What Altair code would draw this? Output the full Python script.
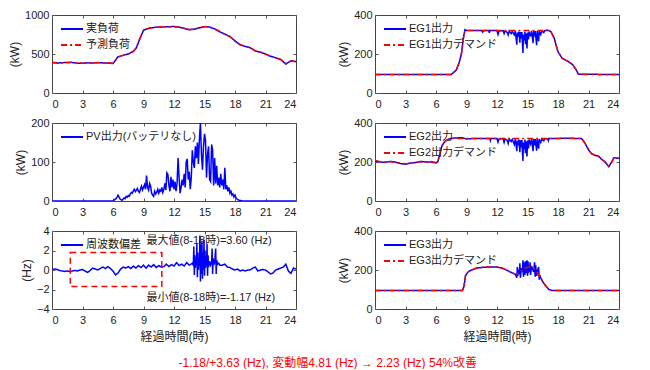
import altair as alt
import pandas as pd

FONT = "Liberation Sans, Noto Sans CJK JP, sans-serif"
W, H = 244, 78
X_TICKS = [0, 3, 6, 9, 12, 15, 18, 21, 24]
BLUE, RED = "#0000ff", "#ff0000"
SOLID, DASHDOT = [1, 0], [6, 3, 2, 3]

# ---------------- load (kW) ----------------
load_t = [0, 0.5, 1, 1.5, 2, 2.5, 3, 3.5, 4, 4.5, 5, 5.5, 6, 6.5, 7, 7.5, 8, 8.3, 8.6, 9,
          9.5, 10, 10.5, 11, 11.5, 12, 12.5, 13, 13.5, 14, 14.5, 15, 15.5, 16, 16.5, 17,
          17.5, 18, 18.5, 19, 19.5, 20, 20.5, 21, 21.5, 22, 22.5, 23, 23.5, 24]
load_actual = [390, 385, 388, 392, 390, 383, 380, 387, 384, 390, 386, 383, 378, 465, 482, 500,
               535, 580, 680, 805, 830, 840, 845, 848, 850, 852, 845, 828, 812, 818, 836, 852,
               846, 822, 785, 755, 722, 668, 618, 598, 580, 540, 522, 500, 470, 452, 428, 372,
               412, 402]
load_pred = [395, 388, 386, 390, 393, 386, 383, 384, 388, 387, 389, 385, 382, 460, 485, 498,
             530, 585, 690, 800, 828, 842, 843, 850, 848, 850, 843, 830, 814, 816, 838, 850,
             848, 820, 788, 752, 725, 665, 622, 595, 583, 538, 525, 498, 472, 450, 430, 375,
             410, 405]

# ---------------- PV (kW) ----------------
pv_t = [0, 5.9] + [round(6.0 + 0.1 * i, 1) for i in range(131)] + [24]
pv_v = [0, 0,
        0, 2, 4, 6, 10, 15, 10, 5, 3, 2,
        5, 8, 6, 12, 10, 14, 12, 18, 22, 20,
        26, 30, 24, 28, 32, 25, 22, 30, 38, 28,
        35, 42, 30, 65, 35, 28, 45, 38, 20, 15,
        12, 25, 18, 22, 30, 20, 28, 25, 35, 22,
        30, 45, 28, 72, 68, 40, 25, 62, 35, 55,
        30, 50, 25, 45, 110, 60, 20, 35, 55, 40,
        70, 35, 100, 108, 55, 75, 30, 60, 130, 100,
        85, 140, 110, 150, 95, 160, 200, 120, 80, 140,
        172, 155, 60, 120, 140, 55, 50, 145, 130, 40,
        110, 45, 90, 40, 60, 35, 70, 40, 55, 30,
        85, 30, 40, 25, 35, 20, 25, 15, 18, 10,
        15, 8, 5, 3, 2, 1, 1, 0, 0, 0, 0,
        0]

# ---------------- frequency deviation (Hz) ----------------
fq_t = [round(0.25 * i, 2) for i in range(56)] + [
    13.8, 13.9, 13.95, 14.0, 14.05, 14.1, 14.15, 14.2, 14.25, 14.3, 14.35, 14.4, 14.45, 14.5,
    14.55, 14.6, 14.65, 14.7, 14.75, 14.8, 14.85, 14.9, 14.95, 15.0, 15.05, 15.1, 15.15, 15.2,
    15.25, 15.3, 15.35, 15.4, 15.5, 15.6, 15.7, 15.75, 15.8, 15.85, 15.9, 16.0, 16.1, 16.15,
    16.2, 16.3, 16.4, 16.5,
    16.75, 17.0, 17.25, 17.5, 17.75, 18.0, 18.25, 18.5, 18.75, 19.0, 19.25, 19.5, 19.75, 20.0,
    20.25, 20.5, 20.75, 21.0, 21.25, 21.5, 21.75, 22.0, 22.25, 22.5, 22.75, 23.0, 23.25, 23.5,
    23.75, 24.0]
fq_v = [0.05, 0.1, 0.05, -0.05, -0.1, -0.15, -0.1, -0.15, -0.1, -0.05, -0.1, 0.0, 0.05, -0.1,
        -0.25, -0.05, 0.2, 0.1, 0.0, 0.15, 0.3, 0.15, 0.35, 0.15, -0.1, -0.5, -0.3, 0.1, 0.3,
        0.2, 0.35, 0.15, 0.4, 0.2, 0.45, 0.25, 0.5, 0.2, 0.5, 0.3, 0.55, 0.25, 0.45, 0.3, 0.35,
        0.6, 0.35, 0.55, 0.4, 0.75, 0.45, 0.6, 0.4, 0.75, 0.5, 0.65,
        0.7, 0.5, 2.4, -0.5, 1.5, 0.2, 0.9, 0.5, 2.7, -0.75, 1.8, 0.0, 1.0, 0.4,
        3.55, -1.17, 2.6, -0.4, 3.0, -0.9, 1.8, 0.0, 3.1, -0.6, 2.0, 0.2, 1.0, 0.4,
        2.7, -0.6, 1.5, 0.3, 0.9, 0.5, 0.8, 2.2, -0.4, 1.2, 0.5, 0.8, 2.2, -0.4,
        1.0, 0.6, 0.7, 0.5,
        0.5, 0.6, 0.3, 0.25, 0.1, 0.0, 0.1, -0.1, 0.0, -0.1, 0.0, 0.0, 0.2, 0.3,
        -0.1, 0.0, 0.05, 0.0, -0.2, -0.4, -0.3, 0.0, 0.1, 0.2, 0.3, 0.6, -0.1, -0.35,
        0.2, 0.1]
box_t, box_t2, box_v, box_v2 = [1.8], [10.8], [1.8], [-1.7]
note_t = [9.3, 9.3]
note_v = [3.0, -2.9]
note_text = ["最大値(8-18時)=3.60 (Hz)", "最小値(8-18時)=-1.17 (Hz)"]

# ---------------- EG1 (kW) ----------------
eg1_dem_t = [0, 7.5, 8.0, 8.3, 8.5, 8.7, 8.85, 17.0, 17.3, 17.6, 18.0, 18.4, 19.0, 19.45,
             19.8, 20.0, 20.2, 24]
eg1_dem_v = [95, 95, 118, 160, 200, 280, 320, 320, 315, 282, 212, 178, 161, 144, 119, 98,
             95, 95]
eg1_out_t = [0, 7.5, 8.0, 8.3, 8.5, 8.7, 8.85, 9.0, 10.5, 10.6, 10.7, 11.2, 11.25, 11.3,
             12.0, 12.1, 12.2, 12.6, 12.7, 12.8, 13.0, 13.1, 13.2, 13.4, 13.5, 13.7, 13.8,
             13.95, 14.0, 14.1, 14.15, 14.25, 14.3, 14.4, 14.45, 14.55, 14.6, 14.7, 14.75,
             14.8, 14.85, 14.95, 15.0, 15.1, 15.15, 15.3, 15.4, 15.55, 15.6, 15.7, 15.75,
             15.9, 15.95, 16.1, 16.15, 16.3, 16.4, 16.6, 16.7, 17.0, 17.3, 17.6, 18.0, 18.4,
             19.0, 19.45, 19.8, 20.0, 24]
eg1_out_v = [95, 95, 118, 160, 200, 285, 325, 320, 320, 312, 320, 320, 308, 320,
             320, 300, 318, 320, 305, 318, 312, 298, 318, 305, 316, 298, 318,
             248, 310, 290, 315, 258, 312, 280, 312, 205, 300, 270, 315,
             250, 305, 228, 310, 275, 315, 290, 318, 256, 318, 290, 318,
             245, 318, 265, 318, 300, 318, 310, 320, 322, 315, 285, 212, 178,
             162, 145, 118, 96, 95]

# ---------------- EG2 (kW) ----------------
eg2_dem_t = [0, 0.5, 1, 1.5, 2, 2.5, 3, 3.5, 4, 4.5, 5, 5.5, 6, 6.2, 6.4, 6.6, 6.8, 7, 7.3,
             7.6, 20.3, 20.6, 21.0, 21.3, 21.7, 22.0, 22.3, 22.6, 23.0, 23.3, 23.5, 24]
eg2_dem_v = [208, 202, 200, 201, 198, 194, 191, 194, 199, 201, 198, 202, 197, 205, 245, 283,
             302, 310, 317, 320, 320, 300, 265, 242, 235, 228, 215, 200, 178, 200, 220, 220]
eg2_out_t = [0, 0.5, 1, 1.5, 2, 2.5, 3, 3.5, 4, 4.5, 5, 5.5, 6, 6.2, 6.4, 6.6, 6.8, 7, 7.3,
             7.6, 8.5, 9.0, 9.5, 11.3, 11.35, 11.4, 12.0, 12.1, 12.2, 12.6, 12.7, 12.8, 13.0,
             13.1, 13.2, 13.4, 13.5, 13.7, 13.8, 13.95, 14.0, 14.1, 14.15, 14.25, 14.3, 14.4,
             14.45, 14.55, 14.6, 14.7, 14.75, 14.8, 14.85, 14.95, 15.0, 15.1, 15.15, 15.3,
             15.4, 15.55, 15.6, 15.7, 15.75, 15.9, 15.95, 16.1, 16.15, 16.3, 16.4, 16.6, 16.7,
             17.0, 17.05, 17.1, 19.0, 20.3, 20.6, 21.0, 21.3, 21.7, 22.0, 22.3, 22.6, 23.0,
             23.3, 23.5, 24]
eg2_out_v = [205, 200, 198, 203, 200, 192, 189, 195, 197, 203, 200, 200, 195, 203, 248, 285,
             300, 312, 318, 322, 325, 318, 320, 320, 310, 320, 320, 302, 318, 320, 300, 318,
             312, 295, 318, 305, 316, 290, 318, 255, 310, 285, 315, 250, 312, 275, 312, 205,
             300, 265, 315, 245, 305, 228, 310, 270, 315, 292, 318, 255, 318, 285, 318, 258,
             318, 268, 318, 300, 318, 308, 320, 318, 310, 320, 322, 320, 302, 262, 243, 233,
             230, 213, 202, 176, 202, 222, 218]

# ---------------- EG3 (kW) ----------------
eg3_dem_t = [0, 8.6, 8.75, 8.9, 9.0, 9.2, 9.5, 10, 10.5, 11, 11.5, 12, 12.5, 13, 13.5, 13.8,
             14.1, 14.4, 14.7, 15.0, 15.3, 15.6, 15.9, 16.2, 16.5, 16.8, 17.1, 17.4, 24]
eg3_dem_v = [95, 95, 115, 170, 180, 192, 200, 210, 213, 215, 216, 215, 210, 198, 185, 178,
             183, 195, 207, 214, 215, 208, 190, 165, 140, 118, 100, 95, 95]
eg3_out_t = [0, 8.6, 8.75, 8.9, 9.0, 9.2, 9.5, 10, 10.5, 11, 11.5, 12, 12.5, 13, 13.5, 13.8,
             13.95, 14.0, 14.05, 14.1, 14.2, 14.25, 14.3, 14.4, 14.5, 14.55, 14.6, 14.7,
             14.75, 14.8, 14.9, 14.95, 15.0, 15.05, 15.1, 15.2, 15.25, 15.3, 15.4, 15.5,
             15.6, 15.7, 15.75, 15.8, 15.9, 16.0, 16.1, 16.15, 16.2, 16.3, 16.5, 16.8, 17.1,
             17.4, 24]
eg3_out_v = [95, 95, 115, 170, 180, 192, 200, 210, 213, 215, 216, 215, 210, 198, 185, 178,
             160, 215, 170, 195, 185, 235, 160, 210, 190, 250, 165, 240, 175, 245, 185, 250,
             170, 245, 190, 200, 240, 175, 220, 205, 190, 240, 165, 225, 170, 200, 215, 150,
             175, 160, 140, 118, 100, 95, 95]

TITLE_TEXT = "-1.18/+3.63 (Hz), 変動幅4.81 (Hz)  → 2.23 (Hz) 54%改善"


def make_df(series):
    rows = []
    for name, ts, vs in series:
        assert len(ts) == len(vs), name
        rows += [{"t": a, "v": b, "s": name} for a, b in zip(ts, vs)]
    return pd.DataFrame(rows)


def enc_xy(ydom, yticks, ytitle, xtitle):
    x = alt.X("t:Q", scale=alt.Scale(domain=[0, 24], nice=False, zero=False),
              axis=alt.Axis(values=X_TICKS, title=xtitle, grid=True,
                            gridDash=[3, H - 6, 3]))
    y = alt.Y("v:Q", scale=alt.Scale(domain=ydom, nice=False, zero=False),
              axis=alt.Axis(values=yticks, title=ytitle, grid=True, format="d",
                            gridDash=[3, W - 6, 3]))
    return x, y


def legend_layers(names):
    styles = [(BLUE, SOLID), (RED, DASHDOT)]
    out = []
    for i, name in enumerate(names):
        color, dash = styles[i]
        yy = 14 + 16 * i
        d = pd.DataFrame({"label": [name]})
        out.append(alt.Chart(d).mark_rule(color=color, strokeWidth=2, strokeDash=dash).encode(
            x=alt.value(9), x2=alt.value(31), y=alt.value(yy)))
        out.append(alt.Chart(d).mark_text(align="left", baseline="middle", font=FONT,
                                          fontSize=11, color="#222").encode(
            x=alt.value(34), y=alt.value(yy), text="label:N"))
    return out


def lines(series, ydom, yticks, ytitle, xtitle):
    names = [s[0] for s in series]
    df = make_df(series)
    x, y = enc_xy(ydom, yticks, ytitle, xtitle)
    return alt.Chart(df).mark_line(strokeWidth=1.5, clip=True).encode(
        x=x, y=y,
        color=alt.Color("s:N", scale=alt.Scale(domain=names, range=[BLUE, RED][:len(names)]),
                        legend=None),
        strokeDash=alt.StrokeDash("s:N", scale=alt.Scale(domain=names,
                                                         range=[SOLID, DASHDOT][:len(names)]),
                                  legend=None),
    ), names


def panel(series, ydom, yticks, ytitle, xtitle, extra=()):
    base, names = lines(series, ydom, yticks, ytitle, xtitle)
    return alt.layer(base, *extra, *legend_layers(names)).properties(width=W, height=H)


p_load = panel([("実負荷", load_t, load_actual), ("予測負荷", load_t, load_pred)],
               [0, 1000], [0, 500, 1000], "(kW)", None)
p_pv = panel([("PV出力(バッテリなし)", pv_t, pv_v)], [0, 200], [0, 100, 200], "(kW)", None)

bx, by = enc_xy([-4, 4], [-4, -2, 0, 2, 4], "(Hz)", "経過時間(時)")
box = alt.Chart(pd.DataFrame({"t": box_t, "t2": box_t2, "v": box_v, "v2": box_v2})).mark_rect(
    fillOpacity=0, stroke=RED, strokeWidth=1.5, strokeDash=[6, 4]
).encode(x=bx, x2="t2", y=by, y2="v2")
notes = alt.Chart(pd.DataFrame({"t": note_t, "v": note_v, "txt": note_text})).mark_text(
    align="left", baseline="middle", font=FONT, fontSize=11, color="#222"
).encode(x=bx, y=by, text="txt:N")
p_fq = panel([("周波数偏差", fq_t, fq_v)], [-4, 4], [-4, -2, 0, 2, 4], "(Hz)", "経過時間(時)",
             extra=(box, notes))

p_eg1 = panel([("EG1出力", eg1_out_t, eg1_out_v), ("EG1出力デマンド", eg1_dem_t, eg1_dem_v)],
              [0, 400], [0, 200, 400], "(kW)", None)
p_eg2 = panel([("EG2出力", eg2_out_t, eg2_out_v), ("EG2出力デマンド", eg2_dem_t, eg2_dem_v)],
              [0, 400], [0, 200, 400], "(kW)", None)
p_eg3 = panel([("EG3出力", eg3_out_t, eg3_out_v), ("EG3出力デマンド", eg3_dem_t, eg3_dem_v)],
              [0, 400], [0, 200, 400], "(kW)", "経過時間(時)")

chart = alt.concat(
    p_load, p_eg1, p_pv, p_eg2, p_fq, p_eg3,
    columns=2, spacing={"row": 30, "column": 79}, bounds="flush"
).resolve_scale(
    x="independent", y="independent", color="independent", strokeDash="independent"
).properties(
    padding={"left": 0, "top": 0, "right": 0, "bottom": 0},
    title=alt.TitleParams(text=TITLE_TEXT, orient="bottom", anchor="middle", color=RED,
                          fontSize=12, font=FONT, fontWeight="normal", offset=15, dx=14),
).configure_view(
    stroke="#444", strokeWidth=1
).configure_axis(
    labelFont=FONT, labelFontSize=11, labelColor="#222", titleFont=FONT, titleFontSize=12,
    titleFontWeight="normal", titleColor="#222", domain=False, ticks=False,
    gridColor="#555", gridWidth=1, gridOpacity=1
).configure_axisX(
    labelPadding=5, titlePadding=6
).configure_axisY(
    labelPadding=3, titlePadding=3
)

chart.save("out.html", embed_options={"renderer": "svg", "actions": False})
